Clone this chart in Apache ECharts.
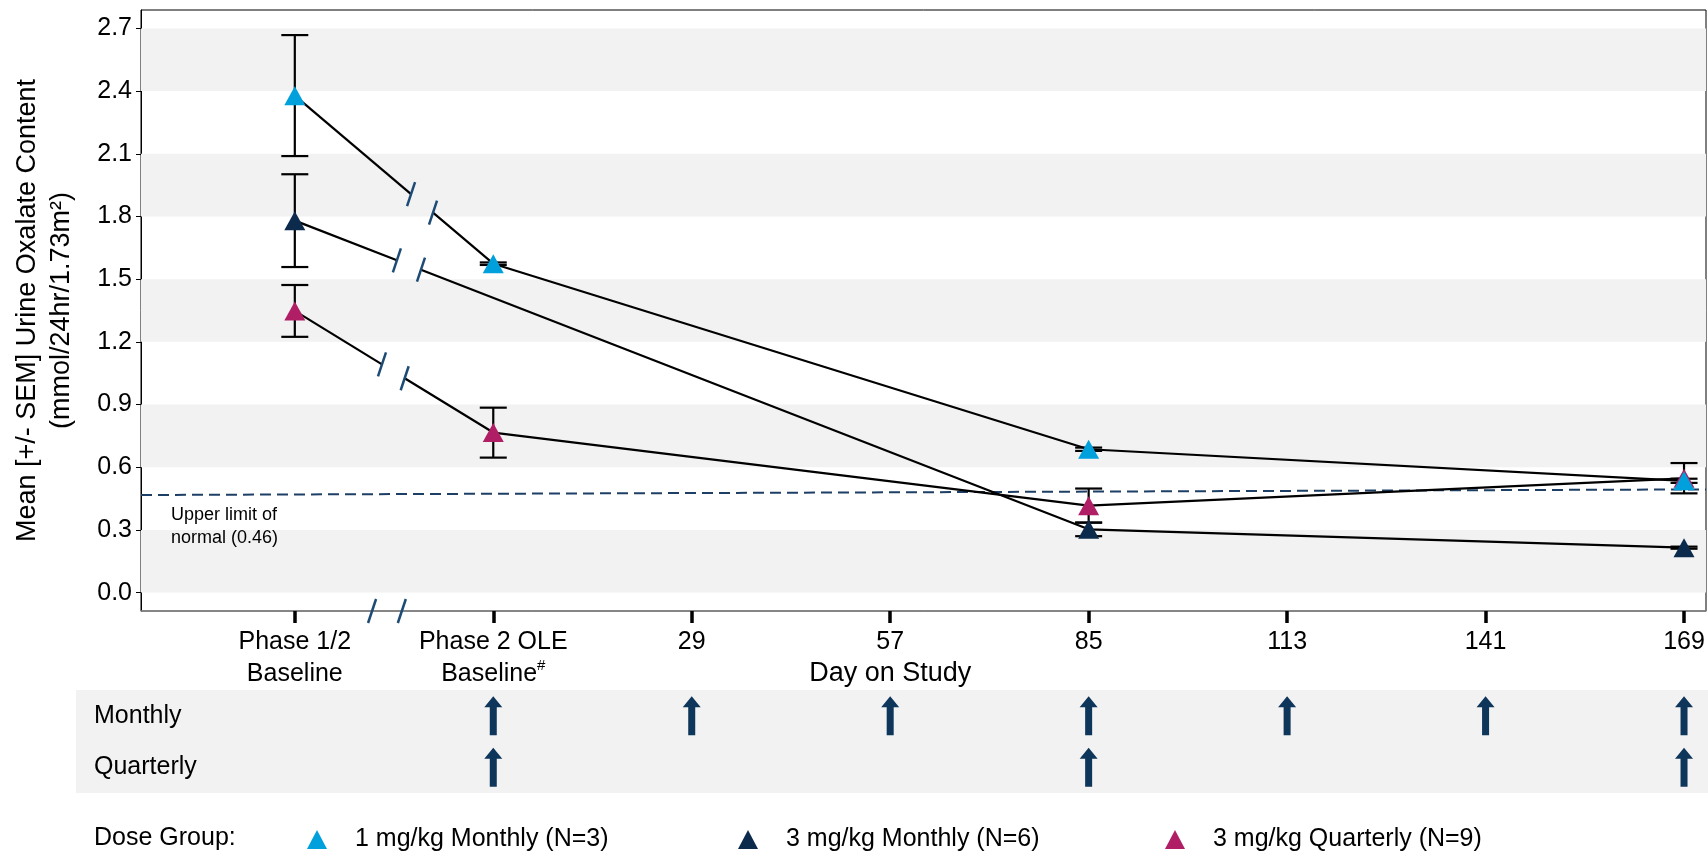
<!DOCTYPE html>
<html>
<head>
<meta charset="utf-8">
<script src="https://cdn.jsdelivr.net/npm/echarts@6.0.0/dist/echarts.min.js"></script>
<style>
  html, body { margin: 0; padding: 0; background: #fff; }
  #chart { width: 1708px; height: 852px; }
</style>
</head>
<body>
<div id="chart"></div>
<script>
// x positions in study days; Phase 1/2 baseline sits one 28-day step before OLE baseline
const xTickDays = [-27, 1, 29, 57, 85, 113, 141, 169];
const xTickLabels = ['Phase 1/2\nBaseline', 'Phase 2 OLE\nBaseline{sup|#}', '29', '57\n{title|Day on Study}', '85', '113', '141', '169'];
const yTicks = [0, 0.3, 0.6, 0.9, 1.2, 1.5, 1.8, 2.1, 2.4, 2.7];
const xMin = -48.7, xMax = 172.1, yMin = -0.088, yMax = 2.788;

const groupNames = ['1 mg/kg Monthly (N=3)', '3 mg/kg Monthly (N=6)', '3 mg/kg Quarterly (N=9)'];
const groupColors = ['#00a0dc', '#0b2a4c', '#b01f66'];

const cyanDays = [-27, 1, 85, 169];
const cyanMean = [2.378, 1.574, 0.686, 0.535];
const cyanLo = [2.089, 1.568, 0.678, 0.525];
const cyanHi = [2.668, 1.580, 0.694, 0.545];

const navyDays = [-27, 85, 169];
const navyMean = [1.78, 0.303, 0.215];
const navyLo = [1.558, 0.27, 0.21];
const navyHi = [2.002, 0.335, 0.22];

const magDays = [-27, 1, 85, 169];
const magMean = [1.348, 0.766, 0.416, 0.547];
const magLo = [1.224, 0.646, 0.335, 0.475];
const magHi = [1.472, 0.885, 0.498, 0.62];

// axis-break gaps (days) on the first segment of each line, and on the x axis
const cyanBreak = [-10.6, -7.5];
const navyBreak = [-12.6, -9.2];
const magBreak = [-14.7, -11.5];
const axisBreak = [-16.1, -11.9];

// upper limit of normal reference line
const ulnLine = [[xMin, 0.467], [xMax, 0.494]];

const monthlyDoseDays = [1, 29, 57, 85, 113, 141, 169];
const quarterlyDoseDays = [1, 85, 169];

const groups = [
  { days: cyanDays, mean: cyanMean, lo: cyanLo, hi: cyanHi, brk: cyanBreak },
  { days: navyDays, mean: navyMean, lo: navyLo, hi: navyHi, brk: navyBreak },
  { days: magDays, mean: magMean, lo: magLo, hi: magHi, brk: magBreak },
];

const font = 'Liberation Sans, Arial, sans-serif';

function interp(d0, v0, d1, v1, d) {
  return v0 + (v1 - v0) * (d - d0) / (d1 - d0);
}

const lineSeries = [];
const errData = [];
const slashData = [];
groups.forEach((g, gi) => {
  const a = interp(g.days[0], g.mean[0], g.days[1], g.mean[1], g.brk[0]);
  const b = interp(g.days[0], g.mean[0], g.days[1], g.mean[1], g.brk[1]);
  slashData.push([g.brk[0], a], [g.brk[1], b]);
  const seg2 = [[g.brk[1], b]];
  for (let i = 1; i < g.days.length; i++) seg2.push([g.days[i], g.mean[i]]);
  [[[g.days[0], g.mean[0]], [g.brk[0], a]], seg2].forEach((seg, si) => {
    lineSeries.push({
      name: 'line' + gi + '_' + si,
      type: 'line',
      data: seg,
      symbol: 'none',
      lineStyle: { color: '#000', width: 2.2 },
      z: 3,
      silent: true,
    });
  });
  g.days.forEach((d, i) => errData.push([d, g.lo[i], g.hi[i]]));
});
axisBreak.forEach((d) => slashData.push([d, yMin]));

// alternating grey bands between ticks
const bands = [];
for (let i = 0; i + 1 < yTicks.length; i += 2) {
  bands.push([{ yAxis: yTicks[i] }, { yAxis: yTicks[i + 1] }]);
}

const chart = echarts.init(document.getElementById('chart'));

const pointSeries = [2, 1, 0].map((gi) => ({
  name: groupNames[gi],
  type: 'scatter',
  data: groups[gi].days.map((d, i) => [d, groups[gi].mean[i]]),
  symbol: 'triangle',
  symbolSize: [21, 19],
  itemStyle: { color: groupColors[gi], opacity: 1 },
  z: 5,
}));

const triIcon = 'path://M10,0 L20,19 L0,19 Z';
const legendLefts = [307, 738, 1165];

const option = {
  animation: false,
  textStyle: { fontFamily: font },
  grid: [
    { left: 141, right: 2, top: 10, height: 601, show: true, borderColor: '#000', borderWidth: 1, backgroundColor: 'transparent' },
    { left: 141, right: 2, top: 690, height: 103 },
  ],
  legend: groupNames.map((n, i) => ({
    data: [n],
    left: legendLefts[i],
    top: 827,
    padding: 0,
    itemWidth: 66,
    itemHeight: 19,
    icon: triIcon,
    textStyle: { fontSize: 25, color: '#000', fontFamily: font },
  })),
  xAxis: [
    {
      type: 'value', min: xMin, max: xMax, gridIndex: 0,
      axisLine: { onZero: false, lineStyle: { color: '#888', width: 1.5 } },
      axisTick: { customValues: xTickDays, length: 12, lineStyle: { color: '#000', width: 3.5 } },
      axisLabel: {
        customValues: xTickDays,
        margin: 15,
        fontSize: 25,
        color: '#000',
        lineHeight: 32,
        fontFamily: font,
        formatter: (v) => xTickLabels[xTickDays.indexOf(v)],
        rich: {
          sup: { fontSize: 15, verticalAlign: 'top', lineHeight: 32, color: '#000', fontFamily: font, padding: [0, 0, 8, 0] },
          title: { fontSize: 27, lineHeight: 32, color: '#000', fontFamily: font },
        },
      },
      splitLine: { show: false },
    },
    {
      type: 'value', min: xMin, max: xMax, gridIndex: 1, show: false,
    },
  ],
  yAxis: [
    {
      type: 'value', min: yMin, max: yMax, gridIndex: 0,
      name: 'Mean [+/- SEM] Urine Oxalate Content\n(mmol/24hr/1.73m²)',
      nameLocation: 'middle',
      nameGap: 62,
      nameRotate: 90,
      nameTextStyle: { fontSize: 27, color: '#000', lineHeight: 34, fontFamily: font },
      axisLine: { show: true, onZero: false, lineStyle: { color: '#000', width: 1 } },
      axisTick: { show: true, customValues: yTicks, length: 5, lineStyle: { color: '#000' } },
      axisLabel: {
        customValues: yTicks, margin: 9, fontSize: 25, color: '#000', fontFamily: font,
        formatter: (v) => v.toFixed(1),
      },
      splitLine: { show: false },
    },
    {
      type: 'category', gridIndex: 1, data: ['Quarterly', 'Monthly'],
      axisLine: { show: false },
      axisTick: { show: false },
      axisLabel: { align: 'left', margin: 47, fontSize: 25, color: '#000', fontFamily: font },
    },
  ],
  graphic: [
    { type: 'rect', z: -10, shape: { x: 76, y: 690, width: 1632, height: 103 }, style: { fill: '#f2f2f2' } },
    { type: 'text', z: 100, left: 171, top: 504, style: { text: 'Upper limit of\nnormal (0.46)', fontSize: 18, lineHeight: 23, fill: '#000', fontFamily: font } },
    { type: 'text', z: 100, left: 94, top: 823, style: { text: 'Dose Group:', fontSize: 25, lineHeight: 30, fill: '#000', fontFamily: font } },
  ],
  series: [
    {
      name: 'ULN',
      type: 'line',
      data: ulnLine,
      symbol: 'none',
      lineStyle: { color: '#1d3f66', width: 2, type: [11, 6] },
      z: 1,
      silent: true,
      markArea: {
        silent: true,
        itemStyle: { color: '#f2f2f2' },
        data: bands,
      },
    },
    ...lineSeries,
    {
      name: 'errorbars',
      type: 'custom',
      data: errData,
      z: 4,
      silent: true,
      renderItem: (params, api) => {
        const x = api.value(0);
        const lo = api.coord([x, api.value(1)]);
        const hi = api.coord([x, api.value(2)]);
        const w = 13.5;
        const st = { stroke: '#000', lineWidth: 2.2 };
        return {
          type: 'group',
          children: [
            { type: 'line', shape: { x1: lo[0], y1: lo[1], x2: hi[0], y2: hi[1] }, style: st },
            { type: 'line', shape: { x1: lo[0] - w, y1: lo[1], x2: lo[0] + w, y2: lo[1] }, style: st },
            { type: 'line', shape: { x1: hi[0] - w, y1: hi[1], x2: hi[0] + w, y2: hi[1] }, style: st },
          ],
        };
      },
    },
    ...pointSeries,
    {
      name: 'breaks',
      type: 'custom',
      data: slashData,
      z: 6,
      silent: true,
      renderItem: (params, api) => {
        const p = api.coord([api.value(0), api.value(1)]);
        return {
          type: 'line',
          shape: { x1: p[0] - 4, y1: p[1] + 12, x2: p[0] + 4, y2: p[1] - 12 },
          style: { stroke: '#1d4b75', lineWidth: 2.5 },
        };
      },
    },
    {
      name: 'Monthly dosing',
      type: 'scatter',
      xAxisIndex: 1,
      yAxisIndex: 1,
      data: monthlyDoseDays.map((d) => [d, 'Monthly']).concat(quarterlyDoseDays.map((d) => [d, 'Quarterly'])),
      symbol: 'path://M9,0 L18,11 L12.5,11 L12.5,39 L5.5,39 L5.5,11 L0,11 Z',
      symbolSize: [18, 39],
      itemStyle: { color: '#0e355a', opacity: 1 },
      z: 5,
      silent: true,
    },
  ],
};

chart.setOption(option);
</script>
</body>
</html>
